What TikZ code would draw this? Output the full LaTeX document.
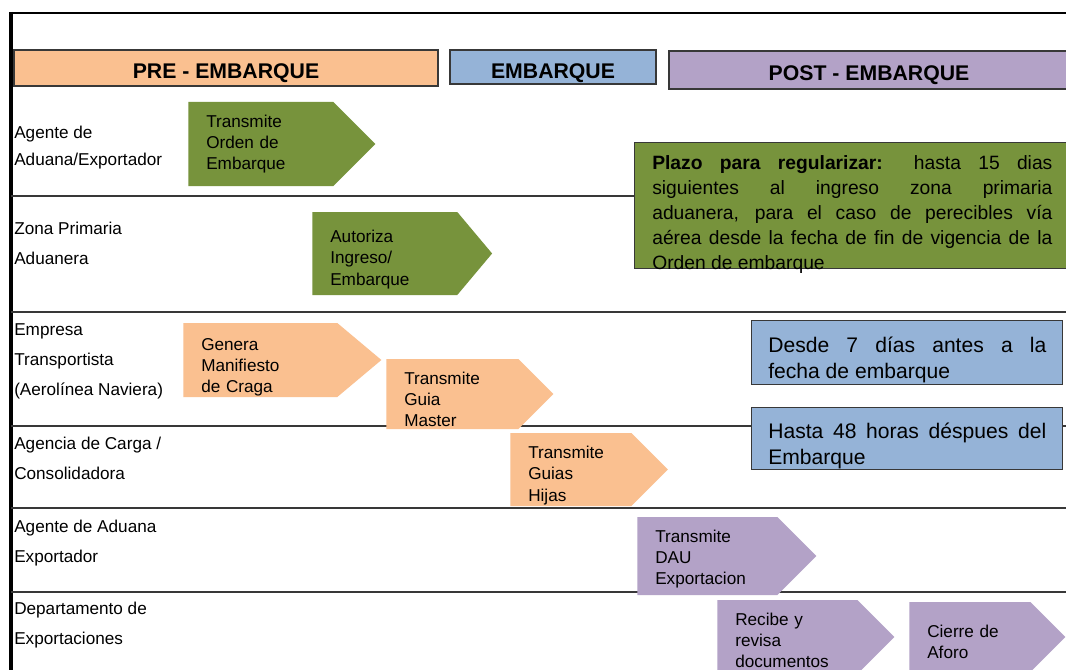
\documentclass[tikz,border=0pt]{standalone}
\usepackage{fontspec}
\setmainfont{Liberation Sans}
\setsansfont{Liberation Sans}
\usetikzlibrary{positioning}
\usetikzlibrary{shapes.symbols}
\definecolor{verdeok}{HTML}{77933C}
\definecolor{melocoton}{HTML}{FAC090}
\definecolor{azulgris}{HTML}{95B3D7}
\definecolor{lila}{HTML}{B3A2C7}
\definecolor{borde}{HTML}{383838}
\newcommand{\pxu}{0.025cm}
\tikzset{every picture/.style={/utils/exec={\sffamily}}}
\tikzset{fase/.style={ % Cabecera de cada fase
           draw=borde, line width=1pt, inner sep=0pt,
           text height=1.45em, text depth=0pt,
           font=\fontsize{15.1}{17}\selectfont\bfseries},
         carril/.style={ % Nombre del carril (ancla en la ultima linea)
           align=left, inner sep=0pt, anchor=base west,
           font=\fontsize{12.2}{21.3}\selectfont},
         paso/.style={ % Flecha de cada paso
           shape=signal, signal to=east, signal pointer angle=90,
           inner xsep=18*\pxu, inner ysep=0pt, anchor=west,
           align=left, font=\fontsize{12.2}{15}\selectfont},
         bajar/.style={ % baja el texto de la flecha
           execute at begin node={\rule{0pt}{\dimexpr0.73em+#1\relax}}},
         nota/.style={ % Recuadro de plazo
           draw=borde, line width=1pt, inner sep=0pt, anchor=north west},
         notatxt/.style={align=justify, inner sep=0pt},
         separador/.style={line width=1pt, draw=borde}}

\begin{document}
\begin{tikzpicture}[x=\pxu, y=-\pxu]
  \useasboundingbox (0,0) rectangle (1066,670);
  \clip (0,0) rectangle (1066,670);
  \fill[white] (0,0) rectangle (1066,670);

  % marco y carriles
  \draw[line width=1.8pt] (10,13) -- (1070,13);
  \draw[line width=2.2pt] (11,12) -- (11,672);
  \draw[separador] (11,196) -- (1070,196);
  \draw[separador] (11,312) -- (1070,312);
  \draw[separador] (11,426) -- (1070,426);
  \draw[separador] (11,508) -- (1070,508);
  \draw[separador] (11,592) -- (1070,592);

  \node[fase, fill=melocoton, minimum width=424*\pxu, minimum height=36*\pxu] (pre) at (226,68) {PRE - EMBARQUE};
  \node[fase, fill=azulgris, minimum width=206*\pxu, minimum height=34*\pxu, text height=1.6em] (emb) at (553,67) {EMBARQUE};
  \node[fase, fill=lila, minimum width=400*\pxu, minimum height=38*\pxu] (post) at (869,70) {POST - EMBARQUE};

  \node[carril, font=\fontsize{12.2}{19.2}\selectfont] (agente) at (14,165) {Agente de\\Aduana/Exportador};
  \node[carril] (zona) at (14,264) {Zona Primaria\\Aduanera};
  \node[carril] (empresa) at (14,395) {Empresa\\Transportista\\(Aerolínea Naviera)};
  \node[carril] (agencia) at (14,479) {Agencia de Carga /\\Consolidadora};
  \node[carril] (agenteexp) at (14,562) {Agente de Aduana\\Exportador};
  \node[carril] (depto) at (14,644) {Departamento de\\Exportaciones};

  \node[paso, fill=verdeok, text width=109*\pxu, minimum height=84*\pxu] (orden) at (188,144) {Transmite\\Orden de\\Embarque};
  \node[paso, bajar=0.3cm, signal pointer angle=100, fill=verdeok, text width=109*\pxu, minimum height=83*\pxu] (autoriza) at (312,253.5) {Autoriza\\Ingreso/\\Embarque};
  \node[paso, bajar=0.35cm, signal pointer angle=80, fill=melocoton, text width=118*\pxu, minimum height=74*\pxu] (manifiesto) at (183,360) {Genera\\Manifiesto\\de Craga};
  \node[paso, bajar=0.25cm, fill=melocoton, text width=96*\pxu, minimum height=70*\pxu] (master) at (386,394) {Transmite\\Guia\\Master};
  \node[paso, bajar=0.3cm, fill=melocoton, text width=85*\pxu, minimum height=73*\pxu] (hijas) at (510,469.5) {Transmite\\Guias\\Hijas};
  \node[paso, bajar=0.15cm, fill=lila, text width=104*\pxu, minimum height=78*\pxu] (dau) at (637,556) {Transmite\\DAU\\Exportacion};
  \node[paso, bajar=0.15cm, fill=lila, text width=104*\pxu, minimum height=74*\pxu] (recibe) at (717,637) {Recibe y\\revisa\\documentos};
  \node[paso, bajar=0.25cm, fill=lila, text width=85*\pxu, minimum height=70*\pxu] (aforo) at (909,637) {Cierre de\\Aforo};

  \node[nota, fill=verdeok, minimum width=436*\pxu, minimum height=126*\pxu] (plazo) at (634,142) {};
  \node[notatxt, text width=10cm, below right=0.325cm and 0.45cm of plazo.north west, font=\fontsize{13.7}{17.8}\selectfont] (plazotxt)
    {\textbf{Plazo para regularizar:} hasta 15 dias\linebreak siguientes al ingreso zona primaria\linebreak aduanera, para el caso de perecibles vía\linebreak aérea desde la fecha de fin de vigencia de la\linebreak Orden de embarque};

  \node[nota, fill=azulgris, minimum width=311*\pxu, minimum height=64*\pxu] (desde) at (751,320) {};
  \node[notatxt, text width=6.95cm, below right=0.41cm and 0.425cm of desde.north west, font=\fontsize{15}{18.5}\selectfont] (desdetxt)
    {Desde 7 días antes a la\linebreak fecha de embarque};

  \node[nota, fill=azulgris, minimum width=311*\pxu, minimum height=62*\pxu] (hasta) at (751,407) {};
  \node[notatxt, text width=6.95cm, below right=0.39cm and 0.425cm of hasta.north west, font=\fontsize{15}{18.5}\selectfont] (hastatxt)
    {Hasta 48 horas déspues del\linebreak Embarque};
\end{tikzpicture}
\end{document}
